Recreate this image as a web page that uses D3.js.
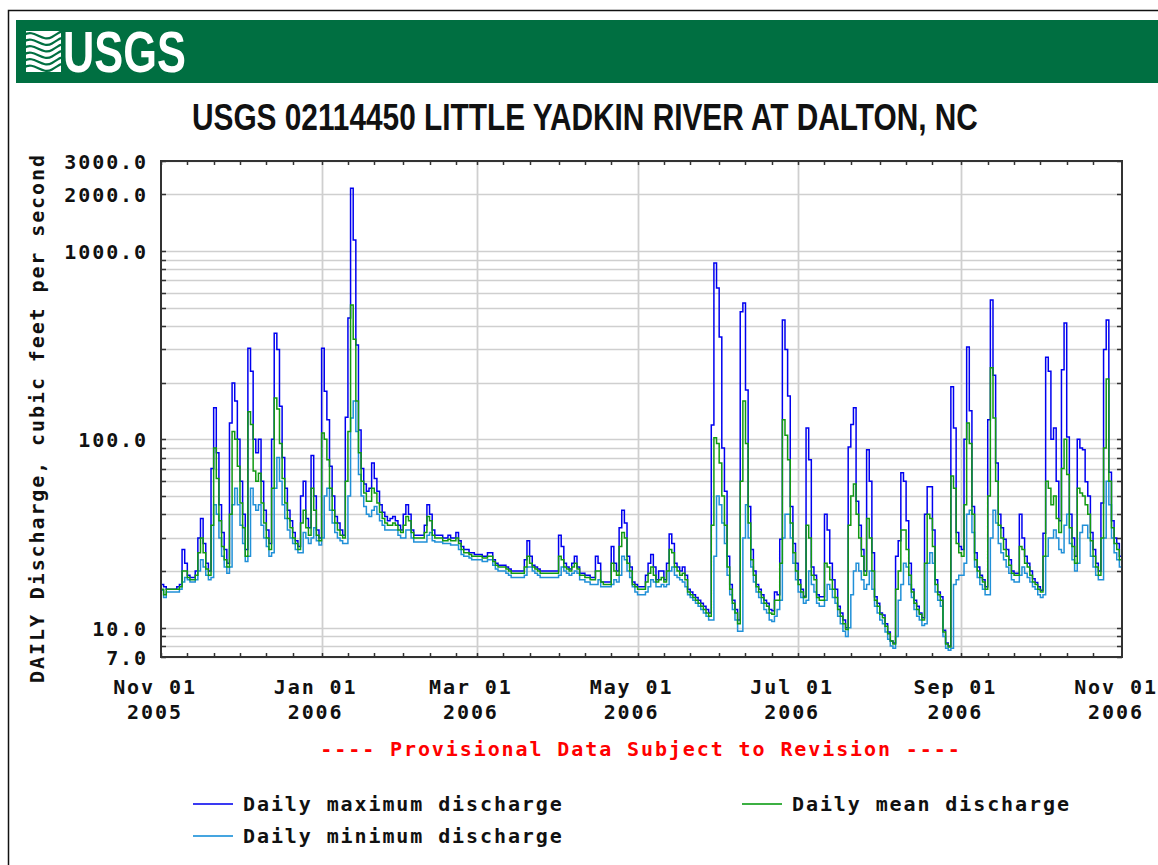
<!DOCTYPE html>
<html><head><meta charset="utf-8">
<script src="https://cdn.jsdelivr.net/npm/d3@7"></script>
<style>
html,body{margin:0;padding:0;background:#fff;}
svg{display:block;}
</style></head><body>
<svg id="chart" width="1158" height="865"></svg>
<script>
// ---------------- data ----------------
const startDate = "2005-11-01";
const endDate = "2006-11-01";
const titleText = "USGS 02114450 LITTLE YADKIN RIVER AT DALTON, NC";
const yAxisTitle = "DAILY Discharge, cubic feet per second";
const provisionalText = "---- Provisional Data Subject to Revision ----";
const yTickValues = [3000, 2000, 1000, 100, 10, 7];
const yTickLabels = ["3000.0", "2000.0", "1000.0", "100.0", "10.0", "7.0"];
const gridValues = [7,8,9,10,20,30,40,50,60,70,80,90,100,200,300,400,500,600,700,800,900,1000,2000,3000];
const xTickDates = ["2005-11-01","2006-01-01","2006-03-01","2006-05-01","2006-07-01","2006-09-01","2006-11-01"];
const xTickMonth = ["Nov 01","Jan 01","Mar 01","May 01","Jul 01","Sep 01","Nov 01"];
const xTickYear = ["2005","2006","2006","2006","2006","2006","2006"];
const seriesNames = ["Daily maximum discharge", "Daily mean discharge", "Daily minimum discharge"];

const maxQ = [
17,16.5,16,16,16,16,16.5,17,26,22,
19,18.5,18.5,20,30,38,28,22,20,70,
147,85,45,32,26,22,122,199,160,100,
60,40,26,304,230,100,85,100,60,42,
33,28,100,366,300,150,80,55,42,37,
32,29,27,50,60,38,34,82,50,33,
30,304,180,127,72,50,39,36,33,31,
131,441,2150,1144,317,112,70,58,53,55,
75,62,53,45,41,39,37,38,39,37,
35,33,40,45,40,33,31,31,31,31,
35,45,40,33,31,31,31,30,30,31,
30,30,32,29,27,26,26,25,25,24.5,
24.5,24.5,24,24,25,25,23,22,21.5,21.5,
21.5,21,20.5,20,20,20,20,20,23,29,
24,21.5,21,20.5,20,20,20,20,20,20,
20,31,27,22,21,20.5,22,24,21,19.5,
19.5,19,19,18.5,18.5,24,22,17.5,17.5,17.5,
17.5,27,22,20,34,42,36,24,21,17.5,
17,16.5,16.5,16.5,19,22,24.5,21,18,20,
20,18,22,31.5,28,22,21,20,21,19,
16,15.5,15,14.5,14,13.5,13,12.5,12,119,
864,636,349,90,53,24,17,14,12.5,11,
476,529,183,44,26,20,17,16,15,14,
13.5,12.5,12.3,15.5,15,29.5,430,300,170,44,
28,22,18,16,14.7,115,78,21,19,15,
14.6,14.6,40,33,22,18,16,13,12,11,
10,91,120,147,47,35,26,20,88,60,
25,14.6,13.5,12,11.7,10.5,9.5,8.5,8.3,24,
29,66.5,60,37,22,16,14,13,12,11.3,
40,56,56,33,18,15.5,14.6,9.7,8.3,8,
190,115,32,27,26,100,309,142,44,25,
21,19,18,16.5,127,549,219,75,40,34,
29.5,26,23,20,19.5,19.5,40,30,24,22,
20,18.2,17.4,16.5,15.8,31.8,273,230,100,115,
60,37,234,415,103,40,30,24,100,90,
88,59.5,50,32,26,22,20,46,300,430,
67,37,30,28,24];

const meanQ = [
16,15,16,16,16,16,16,16.5,20,20,
18.5,18,18,19,25,30,25,20.5,19,35,
90,62,37,27,23,21,40,110,100,72,
46,34,24,140,120,68,60,66,46,36,
30,26,55,166,145,95,62,46,38,34,
30,28,26,36,42,34,31,55,42,31,
29,108,100,78,55,42,36,33,31,30,
60,110,517,340,160,85,60,52,47,47,
55,52,46,41,38,36,35,35,36,35,
33,32,35,39,37,32,30,30,30,30,
32,39,37,31,30,30,30,29,29,29.5,
29,29,30,28,26,25,25,24.5,24,24,
24,24,23.5,23.5,24,24,22.5,21.5,21,21,
21,20.5,20,19.5,19.5,19.5,19.5,19.5,21,24,
22,21,20.5,20,19.5,19.5,19.5,19.5,19.5,19.5,
19.5,24,23,21,20.5,20,21,22,20.5,19,
19,18.5,18.5,18,18,20,20,17.5,17,17,
17,22,20,19,27,32,30,22,20,17,
16.5,16,16,16,17.5,19.5,21,19,17.5,18,
18.5,17.5,20,26,25,21,20,19,19.5,18,
15.5,15,14.5,14,13.5,13,12.5,12,11.5,35,
102,95,75,50,35,21,16,13.5,12,10.5,
60,160,95,36,23,19,16.5,15.5,14.5,13.5,
13,12,11.8,14,14,22,127,105,78,36,
25,20,17,15.5,14.5,35,30,19,18,14.5,
14,14,22,21,18,16,14.5,12.5,11.5,10.5,
9.8,35,50,58,40,30,24,19,38,30,
20,14,13,11.8,11.3,10.2,9.3,8.5,8.2,16,
20,33,33,26,19,15.5,13.5,12.5,11.8,11,
22,40,38,27,17,15,14,9.5,8.2,7.9,
64,55,28,25,24,45,122,95,40,23,
20,18.5,17.5,16,50,240,130,60,35,30,
26,24,21.5,19.5,19,19,27,26,22,21,
19,17.5,17,16,15.5,24,60,55,45,50,
38,32,70,100,65,34,27,22,55,52,
50,45,40,29,24,21,19,30,90,209,
60,34,28,26,23];

const minQ = [
15.8,14.5,15.5,15.5,15.5,15.5,15.5,16,17.5,18.5,
18,17.5,17.5,18,20,23,21,19,18,18.5,
45,40,30,24,21,19.5,21,45,55,45,
35,28,22.5,24,55,45,42,45,35,30,
27,24,25,55,80,60,45,38,33,30,
28,26,25,25,32,30,28,30,34,29,
27.5,30,50,55,42,36,32,30,29,28,
28,50,130,160,110,65,50,44,40,39,
42,44,40,37,35,33,33,33,33,33,
31,30,30,33,33,30,28.5,28.5,28.5,28.5,
28.5,31,32,29,28.5,28.5,28.5,28,28,28,
27.5,27.5,27.5,26,24.5,24,24,23.5,23,23,
23,23,22.5,22.5,23,23,21.5,20.5,20,20,
20,19.5,19,18.5,18.5,18.5,18.5,18.5,19,21,
21,20,19.5,19,18.5,18.5,18.5,18.5,18.5,18.5,
18.5,19,21,20,19.5,19,19.5,20,19.5,18,
18,17.5,17.5,17,17,17,18,16.5,16.5,16.5,
16.5,17,18,17.5,19,24,23,20,18.5,16.5,
15.5,15,15,15,15.5,16.5,18,17.5,16.5,16.5,
17,16.5,17,20,21,19,18.5,18,17.5,16.5,
15,14.5,14,13.5,13,12.5,12,11.5,11,11,
24,50,45,36,28,19,15,12.5,11,9.6,
9.6,30,45,30,21,17.5,15.5,14.5,13.5,12.5,
12,11,10.8,11.5,12.5,14,30,40,40,30,
22,18,15.5,14.5,13.5,14,20,17,15.5,13.5,
13,13,14,17,16,14.5,13.5,11.5,10.5,9.6,
9,10,15,20,22,20,18,16,17,20,
16,13,12,11,10.5,9.5,8.7,8,7.8,9,
14,17,22,21,17,14.5,12.5,11.5,11,10.3,
10.5,22,25,22,15.5,14,13,9,7.8,7.6,
7.8,17,18,19,19,22,40,42,32,21,
18.5,17,16,15,15,30,42,36,28,25,
23,21,19.5,18,17.5,17.5,19,21,19.5,18.5,
17.5,16.5,16,15,14.5,15,24,30,30,33,
30,26,25,35,40,28,23,20,22,32,
35,35,30,24,21,19,18,18,30,60,
45,30,25,23,21];

// ---------------- layout ----------------
const svg = d3.select("#chart");
const W = 1158, H = 865;
const plot = {left: 161, right: 1122, top: 161, bottom: 657};
const mono = '"DejaVu Sans Mono", monospace';
const colMax = "#0000f0", colMean = "#129a12", colMin = "#2090d8";
const parse = d3.utcParse("%Y-%m-%d");
const days = d3.utcDay.range(parse(startDate), parse(endDate));

const x = d3.scaleUtc().domain([parse(startDate), parse(endDate)]).range([plot.left, plot.right]);
const y = d3.scaleLog().domain([7, 3000]).range([plot.bottom, plot.top]);

svg.append("rect").attr("width", W).attr("height", H).attr("fill", "#fff");
svg.append("path").attr("d", `M8.5,${H+5} L8.5,10.5 L${W+5},10.5`).attr("fill", "none").attr("stroke", "#111").attr("stroke-width", 1.5);

// banner
svg.append("rect").attr("x", 16).attr("y", 20).attr("width", W - 16).attr("height", 63).attr("fill", "#006f41");
const logo = svg.append("g");
logo.append("rect").attr("x", 26).attr("y", 31).attr("width", 35).attr("height", 41).attr("fill", "#fff");
for (let i = 0; i < 6; i++) {
  const yy = 35 + i * 6.5;
  logo.append("path")
    .attr("d", `M24,${yy} C34,${yy - 7} 42,${yy + 8} 52,${yy + 2} S60,${yy - 4} 63,${yy - 2}`)
    .attr("fill", "none").attr("stroke", "#006f41").attr("stroke-width", 2.2);
}

// fit a text to a target width via horizontal scaling (condensed look)
function fitText(sel, left, width) {
  const natural = sel.node().getComputedTextLength();
  const s = width / natural;
  sel.attr("x", 0).attr("transform", `translate(${left},${sel.attr("data-y")}) scale(${s},1)`).attr("y", 0);
}
const logoText = logo.append("text").attr("data-y", 72)
  .attr("font-family", '"Liberation Sans", Arial, sans-serif').attr("font-weight", "bold")
  .attr("font-size", 57).attr("fill", "#fff").text("USGS");
fitText(logoText, 63, 123);

// title
const title = svg.append("text").attr("data-y", 130)
  .attr("font-family", '"Liberation Sans", Arial, sans-serif').attr("font-weight", "bold")
  .attr("font-size", 37).attr("fill", "#111").text(titleText);
fitText(title, 192, 786);

// grid
const grid = svg.append("g");
grid.selectAll("line.h").data(gridValues).join("line")
  .attr("x1", plot.left).attr("x2", plot.right)
  .attr("y1", d => Math.round(y(d)) + 0.5).attr("y2", d => Math.round(y(d)) + 0.5)
  .attr("stroke", "#cfcfcf").attr("stroke-width", 1.6);
grid.selectAll("line.v").data(xTickDates.slice(1, -1)).join("line")
  .attr("x1", d => Math.round(x(parse(d))) + 0.5).attr("x2", d => Math.round(x(parse(d))) + 0.5)
  .attr("y1", plot.top).attr("y2", plot.bottom)
  .attr("stroke", "#cfcfcf").attr("stroke-width", 1.8);

// clip
svg.append("clipPath").attr("id", "clip").append("rect")
  .attr("x", plot.left).attr("y", plot.top)
  .attr("width", plot.right - plot.left).attr("height", plot.bottom - plot.top);

function series(vals) {
  const pts = vals.map((v, i) => [x(days[i]), y(v)]);
  pts.push([x(parse(endDate)), y(vals[vals.length - 1])]);
  return pts;
}
const line = d3.line().curve(d3.curveStepAfter);
const lines = svg.append("g").attr("clip-path", "url(#clip)");
[[maxQ, colMax], [minQ, colMin], [meanQ, colMean]].forEach(([vals, c]) => {
  lines.append("path").attr("d", line(series(vals)))
    .attr("fill", "none").attr("stroke", c).attr("stroke-width", 1.5)
    .attr("stroke-linejoin", "miter");
});

// border
svg.append("rect").attr("x", plot.left).attr("y", plot.top)
  .attr("width", plot.right - plot.left).attr("height", plot.bottom - plot.top)
  .attr("fill", "none").attr("stroke", "#333").attr("stroke-width", 2);

// minor ticks
const minorDays = days.filter(d => [1, 11, 21].includes(d.getUTCDate()));
const ticks = svg.append("g").attr("stroke", "#333").attr("stroke-width", 1.5);
minorDays.forEach(d => {
  const xx = Math.round(x(d)) + 0.5;
  ticks.append("line").attr("x1", xx).attr("x2", xx).attr("y1", plot.top).attr("y2", plot.top + 4);
  ticks.append("line").attr("x1", xx).attr("x2", xx).attr("y1", plot.bottom).attr("y2", plot.bottom - 4);
});
gridValues.forEach(v => {
  const yy = Math.round(y(v)) + 0.5;
  ticks.append("line").attr("x1", plot.left).attr("x2", plot.left + 5).attr("y1", yy).attr("y2", yy);
  ticks.append("line").attr("x1", plot.right).attr("x2", plot.right - 5).attr("y1", yy).attr("y2", yy);
});

// y axis labels
const yAxis = d3.axisLeft(y).tickValues(yTickValues)
  .tickFormat((d, i) => yTickLabels[i]).tickSize(0).tickPadding(0);
const yg = svg.append("g").attr("transform", `translate(148,0)`).call(yAxis);
yg.select(".domain").remove();
yg.selectAll("text").attr("font-family", mono).attr("font-weight", "bold")
  .attr("font-size", 20).attr("letter-spacing", 1.9).attr("fill", "#111").attr("dy", "0.36em");

// x axis labels
const xg = svg.append("g");
xTickDates.forEach((d, i) => {
  const xx = x(parse(d)) - 6;
  const t = xg.append("text").attr("text-anchor", "middle").attr("font-family", mono)
    .attr("font-weight", "bold").attr("font-size", 20).attr("letter-spacing", 1.9).attr("fill", "#111");
  t.append("tspan").attr("x", xx).attr("y", 694).text(xTickMonth[i]);
  t.append("tspan").attr("x", xx).attr("y", 719).text(xTickYear[i]);
});

// y axis title
svg.append("text").attr("transform", "translate(44,418) rotate(-90)").attr("text-anchor", "middle")
  .attr("font-family", mono).attr("font-weight", "bold").attr("font-size", 20)
  .attr("letter-spacing", 1.9).attr("fill", "#111").text(yAxisTitle);

// provisional
svg.append("text").attr("x", 641).attr("y", 756).attr("text-anchor", "middle")
  .attr("font-family", mono).attr("font-weight", "bold").attr("font-size", 20)
  .attr("letter-spacing", 1.9).attr("fill", "#ff0000").text(provisionalText);

// legend
const legendItems = [
  {name: seriesNames[0], color: "#3a3af2", x: 193, y: 804},
  {name: seriesNames[1], color: "#3cb043", x: 742, y: 804},
  {name: seriesNames[2], color: "#45a5e0", x: 193, y: 836}
];
const lg = svg.append("g");
legendItems.forEach(it => {
  lg.append("line").attr("x1", it.x).attr("x2", it.x + 40).attr("y1", it.y).attr("y2", it.y)
    .attr("stroke", it.color).attr("stroke-width", 2);
  lg.append("text").attr("x", it.x + 50).attr("y", it.y + 7)
    .attr("font-family", mono).attr("font-weight", "bold").attr("font-size", 20)
    .attr("letter-spacing", 1.9).attr("fill", "#111").text(it.name);
});
</script>
</body></html>
